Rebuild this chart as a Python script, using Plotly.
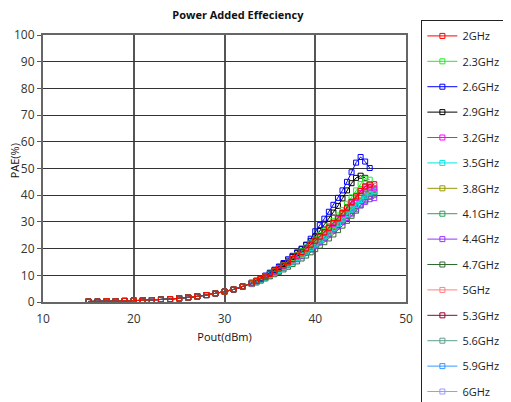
import plotly.graph_objects as go

# Shared low-power part (all curves overlap here)
POUT_LOW = [15, 16, 17, 18, 19, 20, 21, 22, 23, 24, 25, 26, 27, 28, 29, 30, 31, 32]
PAE_LOW = [0.2, 0.2, 0.3, 0.3, 0.4, 0.5, 0.6, 0.7, 0.9, 1.1, 1.4, 1.7, 2.1, 2.6, 3.2, 3.9, 4.7, 5.8]

# High-power grid (dBm)
POUT_HI = [33, 33.5, 34, 34.5, 35, 35.5, 36, 36.5, 37, 37.5, 38, 38.5, 39, 39.5,
           40, 40.5, 41, 41.5, 42, 42.5, 43, 43.5, 44, 44.5, 45, 45.5, 46, 46.5]

FREQS = ["2GHz", "2.3GHz", "2.6GHz", "2.9GHz", "3.2GHz", "3.5GHz", "3.8GHz", "4.1GHz",
         "4.4GHz", "4.7GHz", "5GHz", "5.3GHz", "5.6GHz", "5.9GHz", "6GHz"]

COLORS = ["#FF0000", "#22EE22", "#0000FF", "#000000", "#FF00FF", "#00E5E5", "#999900", "#2E9E5E",
          "#9933FF", "#2F6B2F", "#FF8080", "#990033", "#5F9E8F", "#3399FF", "#9999FF"]

PAE_2G = [7.0, 7.8, 8.6, 9.5, 10.5, 11.5, 12.6, 13.7, 14.9, 16.1, 17.4, 18.7, 20.1, 21.5,
          23.0, 24.5, 26.1, 27.8, 29.6, 31.4, 33.3, 35.3, 37.4, 39.5, 41.6, 43.3, 44.0]
PAE_2_3G = [7.1, 7.9, 8.7, 9.6, 10.6, 11.6, 12.7, 13.8, 15.0, 16.3, 17.6, 19.0, 20.4, 21.9,
            23.4, 25.0, 26.7, 28.5, 30.4, 32.4, 34.5, 36.8, 39.2, 41.8, 44.2, 46.2, 45.8]
PAE_2_6G = [7.2, 8.0, 8.9, 9.9, 11.0, 12.1, 13.3, 14.6, 16.0, 17.3, 18.6, 20.0, 21.5, 23.7,
            26.5, 28.8, 31.2, 33.8, 36.4, 39.0, 41.8, 45.0, 48.6, 52.2, 54.3, 52.6, 50.2]
PAE_2_9G = [7.2, 7.9, 8.8, 9.7, 10.8, 11.8, 13.0, 14.2, 15.5, 16.9, 18.3, 19.8, 21.3, 22.9,
            24.6, 26.6, 29.0, 31.2, 33.5, 36.0, 38.8, 41.8, 44.5, 46.5, 47.3, 46.5]
PAE_3_2G = [7.0, 7.8, 8.6, 9.5, 10.4, 11.4, 12.5, 13.6, 14.8, 16.0, 17.3, 18.6, 20.0, 21.4,
            22.9, 24.4, 26.0, 27.6, 29.3, 31.1, 33.0, 35.0, 37.0, 39.0, 40.8, 42.2, 42.9, 42.6]
PAE_3_5G = [6.9, 7.6, 8.4, 9.2, 10.1, 11.0, 12.0, 13.0, 14.1, 15.2, 16.4, 17.6, 18.9, 20.2,
            21.6, 23.0, 24.5, 26.0, 27.6, 29.3, 31.0, 32.8, 34.6, 36.4, 38.2, 39.8, 41.0, 41.5]
PAE_3_8G = [6.9, 7.7, 8.5, 9.3, 10.2, 11.2, 12.2, 13.3, 14.4, 15.6, 16.8, 18.1, 19.4, 20.8,
            22.2, 23.7, 25.2, 26.8, 28.5, 30.2, 32.0, 33.9, 35.8, 37.7, 39.5, 41.0, 42.0, 42.2]
PAE_4_1G = [6.8, 7.5, 8.3, 9.1, 10.0, 10.9, 11.9, 12.9, 14.0, 15.1, 16.3, 17.5, 18.8, 20.1,
            21.5, 22.9, 24.4, 25.9, 27.5, 29.2, 30.9, 32.7, 34.5, 36.3, 38.1, 39.7, 40.9, 41.3]
PAE_4_4G = [6.9, 7.6, 8.4, 9.2, 10.1, 11.0, 11.9, 12.9, 13.9, 15.0, 16.1, 17.3, 18.5, 19.8,
            21.1, 22.5, 23.9, 25.3, 26.8, 28.3, 29.9, 31.5, 33.1, 34.7, 36.2, 37.5, 38.5, 38.9]
PAE_4_7G = [6.7, 7.3, 8.0, 8.8, 9.6, 10.4, 11.3, 12.2, 13.2, 14.2, 15.2, 16.3, 17.4, 18.6,
            19.8, 21.1, 22.4, 23.8, 25.3, 26.9, 28.6, 30.4, 32.3, 34.2, 36.2, 38.0, 39.5, 40.3]
PAE_5G = [7.0, 7.8, 8.6, 9.5, 10.4, 11.4, 12.5, 13.6, 14.7, 15.9, 17.2, 18.5, 19.9, 21.3,
          22.8, 24.3, 25.9, 27.6, 29.3, 31.1, 33.0, 35.0, 37.0, 39.0, 40.9, 42.5, 43.4, 43.5]
PAE_5_3G = [7.0, 7.8, 8.7, 9.6, 10.5, 11.5, 12.6, 13.7, 14.9, 16.1, 17.4, 18.7, 20.1, 21.5,
            23.0, 24.6, 26.2, 27.9, 29.7, 31.6, 33.5, 35.5, 37.6, 39.7, 41.7, 43.2, 44.0, 44.1]
PAE_5_6G = [6.8, 7.5, 8.3, 9.1, 10.0, 10.9, 11.9, 12.9, 13.9, 15.0, 16.2, 17.4, 18.7, 20.0,
            21.4, 22.8, 24.2, 25.7, 27.3, 28.9, 30.6, 32.4, 34.2, 36.0, 37.8, 39.4, 40.6, 41.2]
PAE_5_9G = [6.9, 7.6, 8.4, 9.2, 10.1, 11.1, 12.1, 13.1, 14.2, 15.4, 16.6, 17.8, 19.1, 20.5,
            21.9, 23.4, 24.9, 26.5, 28.1, 29.8, 31.6, 33.4, 35.3, 37.2, 39.0, 40.6, 41.7, 42.0]
PAE_6G = [6.8, 7.5, 8.2, 9.0, 9.9, 10.8, 11.7, 12.7, 13.7, 14.8, 15.9, 17.1, 18.3, 19.6,
          20.9, 22.3, 23.7, 25.2, 26.7, 28.3, 29.9, 31.6, 33.3, 35.0, 36.7, 38.3, 39.5, 40.0]

PAE_HI = [PAE_2G, PAE_2_3G, PAE_2_6G, PAE_2_9G, PAE_3_2G, PAE_3_5G, PAE_3_8G, PAE_4_1G,
          PAE_4_4G, PAE_4_7G, PAE_5G, PAE_5_3G, PAE_5_6G, PAE_5_9G, PAE_6G]

X_TICKS = [10, 20, 30, 40, 50]
Y_TICKS = [0, 10, 20, 30, 40, 50, 60, 70, 80, 90, 100]

fig = go.Figure()
# draw in reverse so the first series ends up on top; legend keeps original order
for rank in reversed(range(len(FREQS))):
    name, color, hi = FREQS[rank], COLORS[rank], PAE_HI[rank]
    x = POUT_LOW + POUT_HI[:len(hi)]
    y = PAE_LOW + hi
    fig.add_trace(go.Scatter(
        x=x, y=y, name=name, mode="lines+markers", legendgroup=name, legendrank=rank + 1,
        line=dict(color=color, width=1),
        marker=dict(symbol="square-open", size=5, color=color, line=dict(width=1, color=color)),
    ))

FONT = "Open Sans, DejaVu Sans, sans-serif"
axis_font = dict(family=FONT, size=12, color="#333333")
fig.update_layout(
    width=503, height=394,
    margin=dict(l=35, r=105, t=27, b=100, autoexpand=False),
    paper_bgcolor="white", plot_bgcolor="white",
    title=dict(text="<b>Power Added Effeciency</b>", x=0.457, xanchor="center", y=0.982, yanchor="middle",
               automargin=False, font=dict(family=FONT, size=11, color="#111111")),
    xaxis=dict(range=[10, 50], tickvals=X_TICKS, showgrid=True, gridcolor="#555555", gridwidth=1.5,
               showline=True, linecolor="#666666", linewidth=2, mirror=True, ticks="outside",
               ticklen=5, tickcolor="rgba(0,0,0,0)",
               tickfont=axis_font, zeroline=False, automargin=False,
               title=dict(text="Pout(dBm)", font=dict(family=FONT, size=11, color="#111111"), standoff=7)),
    yaxis=dict(range=[0, 100], tickvals=Y_TICKS, showgrid=True, gridcolor="#333333", gridwidth=1.2,
               showline=True, linecolor="#666666", linewidth=2, mirror=True, ticks="outside",
               ticklen=4, tickcolor="#555555", tickfont=axis_font, zeroline=False, automargin=False),
    legend=dict(x=1.041, y=1.0565, xanchor="left", yanchor="top", bordercolor="#222222", borderwidth=1.5,
                tracegroupgap=6.4, font=dict(family=FONT, size=11, color="#222222"),
                bgcolor="white", itemwidth=30, maxheight=420),
    showlegend=True,
    annotations=[dict(text="PAE(%)", xref="paper", yref="paper", x=-0.079, y=0.528,
                      xanchor="center", yanchor="middle", textangle=-90, showarrow=False,
                      font=dict(family=FONT, size=11, color="#111111"))],
)

fig.write_html("out.html")
